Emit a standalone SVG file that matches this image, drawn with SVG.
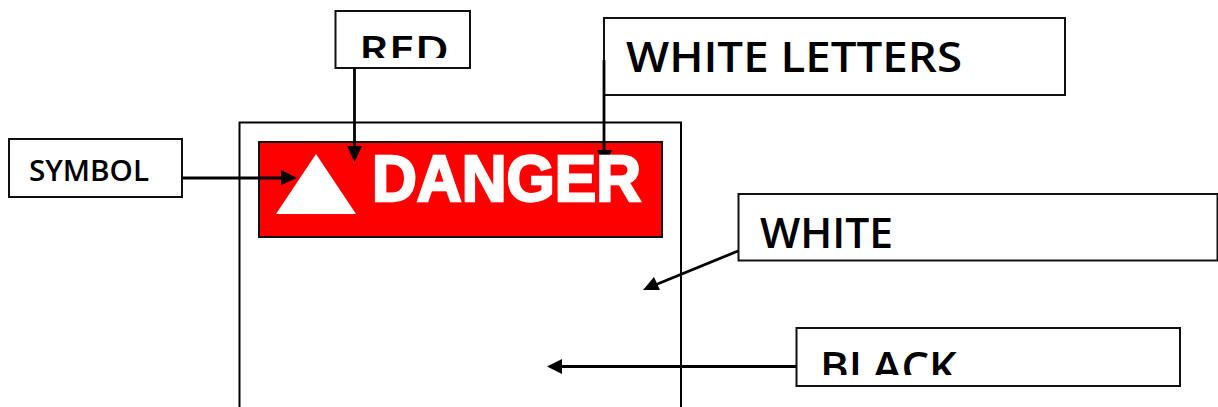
<svg xmlns="http://www.w3.org/2000/svg" width="1218" height="407" viewBox="0 0 1218 407">
<style>
.box{fill:#fff;stroke:#111;stroke-width:2}
.lbl{font-family:"Open Sans","DejaVu Sans",sans-serif;font-weight:600;fill:#000}
.wire{fill:none;stroke:#000;stroke-width:2.800}
.head{fill:#000;stroke:none}
</style>
<defs>
<clipPath id="clipRed"><rect x="336" y="12" width="133" height="46"/></clipPath>
<clipPath id="clipBlack"><rect x="797" y="329" width="382" height="46"/></clipPath>
</defs>
<rect width="1218" height="407" fill="#fff"/>
<g id="frame"><path d="M239.500 407V122.500H681V407" fill="none" stroke="#000" stroke-width="2"/></g>
<g id="sign-banner">
<rect x="259" y="142" width="403" height="95" fill="#f00" stroke="#111" stroke-width="2"/>
<polygon points="316,154 276,214 356,214" fill="#fff"/>
</g>
<g id="node-red"><rect class="box" x="335.500" y="11" width="134.500" height="57"/>
<text class="lbl" x="359" y="63" font-size="37" textLength="90" lengthAdjust="spacingAndGlyphs" clip-path="url(#clipRed)">RED</text></g>
<g id="node-white-letters"><rect class="box" x="604" y="18" width="461" height="77"/>
<text class="lbl" x="626" y="72" font-size="41" textLength="336" lengthAdjust="spacingAndGlyphs">WHITE LETTERS</text></g>
<g id="node-symbol"><rect class="box" x="9" y="139" width="173" height="58"/>
<text class="lbl" x="29" y="181" font-size="29" textLength="120" lengthAdjust="spacingAndGlyphs">SYMBOL</text></g>
<g id="node-white"><rect class="box" x="738.500" y="194" width="479" height="66.500"/>
<text class="lbl" x="760" y="248" font-size="41" textLength="133" lengthAdjust="spacingAndGlyphs">WHITE</text></g>
<g id="node-black"><rect class="box" x="796.500" y="328" width="383.500" height="58"/>
<text class="lbl" x="820" y="382" font-size="41" textLength="137" lengthAdjust="spacingAndGlyphs" clip-path="url(#clipBlack)">BLACK</text></g>
<g id="connectors">
<path class="wire" d="M354.500 68V148"/><polygon class="head" points="347,146 362,146 354.500,162"/>
<path class="wire" d="M604 60V152"/><polygon class="head" points="597,150 612,150 604.500,166"/>
<path class="wire" d="M183 178H283"/><polygon class="head" points="281,170 297,178 281,185"/>
<path class="wire" d="M738 251L655 285"/><polygon class="head" points="643,290 654,277 660,290"/>
<path class="wire" d="M796 366.500H560"/><polygon class="head" points="547,366.500 562,359 562,374"/>
</g>
<g id="sign-title"><text x="372" y="201" font-family="'Liberation Sans',Arial,sans-serif" font-weight="700" font-size="64" fill="#fff" stroke="#fff" stroke-width="2.500" textLength="269" lengthAdjust="spacingAndGlyphs">DANGER</text></g>
</svg>
